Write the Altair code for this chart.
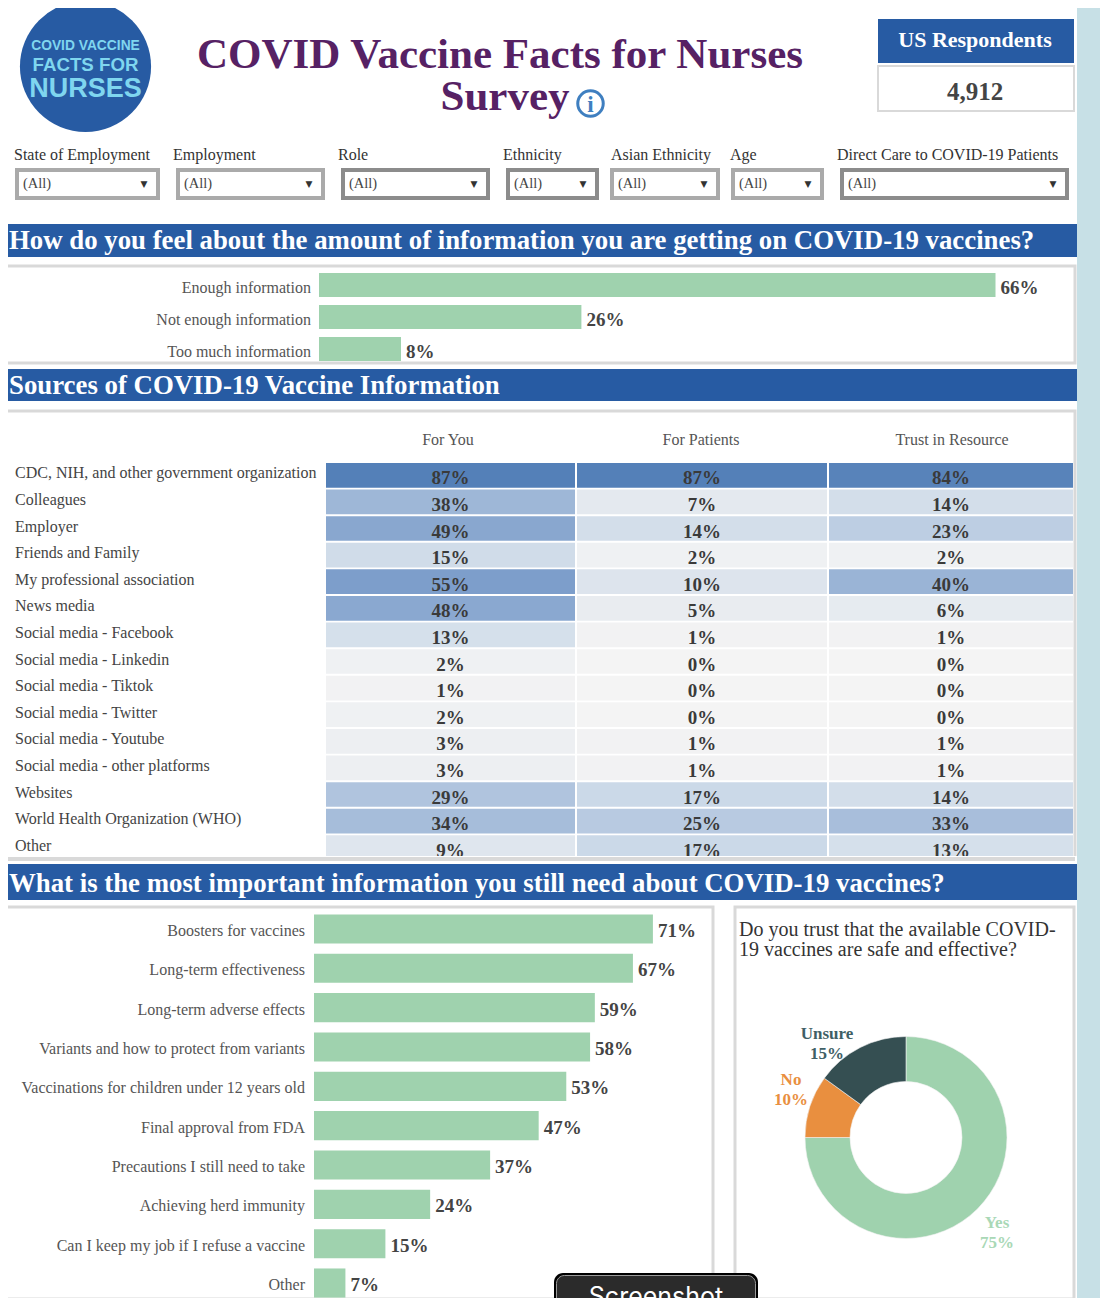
import altair as alt
import pandas as pd

SERIF = "Liberation Serif"
SANS = "Liberation Sans"
BLUE = "#275ba3"
GREEN = "#9fd2ae"
GRAY = "#d9d9d9"
TXT = "#555555"
VAL = "#444444"

# ---------- values ----------
filter_names = ["State of Employment", "Employment", "Role", "Ethnicity", "Asian Ethnicity", "Age",
                "Direct Care to COVID-19 Patients"]
filter_label_x = [14, 173, 338, 503, 611, 730, 837]
filter_left = [17, 178, 343, 508, 612, 733, 842]
filter_right = [158, 323, 488, 597, 718, 822, 1067]
filter_edge = ["#aaaaaa", "#aaaaaa", "#8c8c8c", "#8c8c8c", "#aaaaaa", "#aaaaaa", "#8c8c8c"]

amount_cats = ["Enough information", "Not enough information", "Too much information"]
amount_vals = [66, 25.6, 8]

source_cats = ["CDC, NIH, and other government organization", "Colleagues", "Employer", "Friends and Family",
               "My professional association", "News media", "Social media - Facebook", "Social media - Linkedin",
               "Social media - Tiktok", "Social media - Twitter", "Social media - Youtube",
               "Social media - other platforms", "Websites", "World Health Organization (WHO)", "Other"]
for_you = [87, 38, 49, 15, 55, 48, 13, 2, 1, 2, 3, 3, 29, 34, 9]
for_patients = [87, 7, 14, 2, 10, 5, 1, 0, 0, 0, 1, 1, 17, 25, 17]
trust_res = [84, 14, 23, 2, 40, 6, 1, 0, 0, 0, 1, 1, 14, 33, 13]
col_names = ["For You", "For Patients", "Trust in Resource"]

need_cats = ["Boosters for vaccines", "Long-term effectiveness", "Long-term adverse effects",
             "Variants and how to protect from variants", "Vaccinations for children under 12 years old",
             "Final approval from FDA", "Precautions I still need to take", "Achieving herd immunity",
             "Can I keep my job if I refuse a vaccine", "Other"]
need_vals = [71.2, 67, 59, 58, 53, 47.2, 37, 24.4, 15, 6.6]

trust_cats = ["Yes", "No", "Unsure"]
trust_vals = [75, 10, 15]
trust_colors = [GREEN, "#e98f3f", "#354f52"]
trust_text = ["#a9d8b6", "#e98f3f", "#3f5f66"]

heat_domain = [0, 7, 14, 25, 40, 55, 87]
heat_range = ["#f4f4f4", "#e4e9ef", "#d3deea", "#b8cae1", "#9ab4d6", "#7d9ecb", "#5480b8"]

# ---------- helpers: reference page pixels -> plot pixels ----------
X = lambda v: v - 8
Y = lambda v: v - 8
ONE = alt.Data(values=[{"k": 1}])
layers = []


def rect(x1, y1, x2, y2, fill, stroke=None, sw=0, radius=0):
    kw = dict(fill=fill)
    if stroke:
        kw.update(stroke=stroke, strokeWidth=sw)
    if radius:
        kw.update(cornerRadius=radius)
    layers.append(alt.Chart(ONE).mark_rect(**kw).encode(
        x=alt.value(X(x1)), x2=alt.value(X(x2)), y=alt.value(Y(y1)), y2=alt.value(Y(y2))))


def text(s, x, y, size=15, color=TXT, font=SERIF, weight="normal", align="left"):
    layers.append(alt.Chart(ONE).mark_text(text=s, font=font, fontSize=size, fontWeight=weight, color=color,
                                           align=align, baseline="alphabetic").encode(
        x=alt.value(X(x)), y=alt.value(Y(y))))


def hbars(cats, vals, x0, x100, top, bottom, pad, label_x, label_dy, val_dy, val_size):
    df = pd.DataFrame({"cat": cats, "v": vals, "t": [f"{round(v)}%" for v in vals]})
    xs = alt.Scale(domain=[0, 100], range=[X(x0), X(x100)], nice=False)
    ys = alt.Scale(type="band", domain=cats, range=[Y(top), Y(bottom)], paddingInner=pad, paddingOuter=pad / 2)
    ych = alt.Y("cat:N", scale=ys, axis=None)
    layers.append(alt.Chart(df).mark_bar(color=GREEN).encode(x=alt.X("v:Q", scale=xs, axis=None), y=ych))
    layers.append(alt.Chart(df).mark_text(font=SERIF, fontSize=16, color=TXT, align="right", dy=label_dy).encode(
        x=alt.value(X(label_x)), y=ych, text="cat:N"))
    layers.append(alt.Chart(df).mark_text(font=SERIF, fontSize=val_size, fontWeight="bold", color=VAL, align="left",
                                          dx=5, dy=val_dy).encode(
        x=alt.X("v:Q", scale=xs, axis=None), y=ych, text="t:N"))


# ---------- page furniture ----------
rect(1077, 0, 1116, 1320, "#c7e0e6")

# logo
layers.append(alt.Chart(ONE).mark_circle(size=17200, color=BLUE, opacity=1).encode(
    x=alt.value(X(85.5)), y=alt.value(Y(66.5))))
text("COVID VACCINE", 85.5, 50, 13.8, "#7fd6ef", SANS, "bold", "center")
text("FACTS FOR", 85.5, 71, 18.7, "#7fd6ef", SANS, "bold", "center")
text("NURSES", 85.5, 97, 27, "#7fd6ef", SANS, "bold", "center")

# title
text("COVID Vaccine Facts for Nurses", 500, 68, 43, "#562164", SERIF, "bold", "center")
text("Survey", 505, 110, 43, "#562164", SERIF, "bold", "center")
layers.append(alt.Chart(ONE).mark_circle(size=650, fill="white", stroke="#3f7fc0", strokeWidth=3, opacity=1).encode(
    x=alt.value(X(590.5)), y=alt.value(Y(103.5))))
text("i", 590.5, 112, 23, "#3f7fc0", SERIF, "bold", "center")

# respondents box
rect(878, 66, 1074, 111, "white", GRAY, 2)
rect(878, 19, 1074, 63, BLUE)
text("US Respondents", 975, 47, 22, "white", SERIF, "bold", "center")
text("4,912", 975, 100, 25, VAL, SERIF, "bold", "center")

# filters
for name, lx, a, b, edge in zip(filter_names, filter_label_x, filter_left, filter_right, filter_edge):
    text(name, lx, 160, 16, "#333333", SERIF)
    rect(a, 170, b, 198, "white", edge, 4)
    text("(All)", a + 6, 188, 14.5, "#444444", SERIF)
    text("▼", b - 14, 187, 9, "#333333", "DejaVu Sans", "normal", "center")

# section headers and panels
rect(3, 224, 1077, 257, BLUE)
text("How do you feel about the amount of information you are getting on COVID-19 vaccines?", 9, 249, 26.8, "white",
     SERIF, "bold")
rect(6, 266, 1075, 363, "white", GRAY, 3)
rect(3, 369, 1077, 401, BLUE)
text("Sources of COVID-19 Vaccine Information", 9, 394, 26.8, "white", SERIF, "bold")
rect(6, 411, 1075, 870, "white", GRAY, 3)

# ---------- amount bars ----------
hbars(amount_cats, amount_vals, 319, 1344, 269, 365, 0.25, 311, 3, 3, 19)

# ---------- heat table ----------
left_edges = [326, 577, 829]
right_edges = [575, 827, 1073]
centers = [450, 701, 952]
row_top, row_bottom = 462, 462 + 26.6 * 15
row_scale = alt.Scale(type="band", domain=source_cats, range=[Y(row_top), Y(row_bottom)], paddingInner=0.07,
                      paddingOuter=0.035)
color_scale = alt.Scale(domain=heat_domain, range=heat_range)
for name, vals, a, b, c in zip(col_names, [for_you, for_patients, trust_res], left_edges, right_edges, centers):
    df = pd.DataFrame({"cat": source_cats, "v": vals, "t": [f"{v}%" for v in vals], "col": name})
    xs = alt.Scale(type="band", domain=[name], range=[X(a), X(b)], paddingInner=0, paddingOuter=0)
    xch = alt.X("col:N", scale=xs, axis=None)
    ych = alt.Y("cat:N", scale=row_scale, axis=None)
    layers.append(alt.Chart(df).mark_rect().encode(
        x=xch, y=ych, color=alt.Color("v:Q", scale=color_scale, legend=None)))
    layers.append(alt.Chart(df).mark_text(font=SERIF, fontSize=19, fontWeight="bold", color="#3a3a3a", dy=3).encode(
        x=xch, y=ych, text="t:N"))
    text(name, c - (2 if name == "For You" else 0), 445, 16, TXT, SERIF, "normal", "center")

df_rows = pd.DataFrame({"cat": source_cats})
layers.append(alt.Chart(df_rows).mark_text(font=SERIF, fontSize=16, color="#444444", align="left", dy=-2).encode(
    x=alt.value(X(15)), y=alt.Y("cat:N", scale=row_scale, axis=None), text="cat:N"))

# bottom of the scrolled table is cut by the panel edge
rect(5, 856, 1077, 864, "white")
rect(5, 857, 1075, 861, GRAY)

# ---------- third section ----------
rect(3, 864, 1077, 900, BLUE)
text("What is the most important information you still need about COVID-19 vaccines?", 9, 892, 26.8, "white", SERIF,
     "bold")
rect(6, 907, 713, 1299, "white", GRAY, 3)
rect(735, 907, 1074, 1299, "white", GRAY, 3)

hbars(need_cats, need_vals, 314, 790, 909.3, 1302.7, 0.26, 305, 2, 2, 19)

# ---------- donut ----------
text("Do you trust that the available COVID-", 739, 936, 20, "#333333", SERIF)
text("19 vaccines are safe and effective?", 739, 956, 20, "#333333", SERIF)
df_t = pd.DataFrame({"cat": trust_cats, "v": trust_vals, "o": [0, 1, 2]})
layers.append(alt.Chart(df_t).mark_arc(radius=101, radius2=56, stroke="#f2f2f2", strokeWidth=0.6).encode(
    x=alt.value(X(906)), y=alt.value(Y(1137.5)),
    theta=alt.Theta("v:Q", stack=True, scale=alt.Scale(domain=[0, 100])),
    order=alt.Order("o:Q"),
    color=alt.Color("cat:N", scale=alt.Scale(domain=trust_cats, range=trust_colors), legend=None)))
for cat, v, col, x, y in zip(trust_cats, trust_vals, trust_text, [997, 791, 827], [1228, 1085, 1039]):
    text(cat, x, y, 17, col, SERIF, "bold", "center")
    text(f"{v}%", x, y + 20, 17, col, SERIF, "bold", "center")

# ---------- screenshot button ----------
rect(554, 1273, 758, 1330, "#000000", radius=9)
rect(556.5, 1275.5, 755.5, 1330, "#2b2b2b", "#9a9a9a", 1, 8)
text("Screenshot", 656, 1305, 25, "white", "Inter", "normal", "center")

chart = alt.layer(*layers).resolve_scale(x="independent", y="independent", color="independent").properties(
    width=1092, height=1290, padding=0, autosize=alt.AutoSizeParams(type="none"), background="white"
).configure_view(stroke=None)

chart.save("out.html", embed_options={"renderer": "svg", "actions": False})
